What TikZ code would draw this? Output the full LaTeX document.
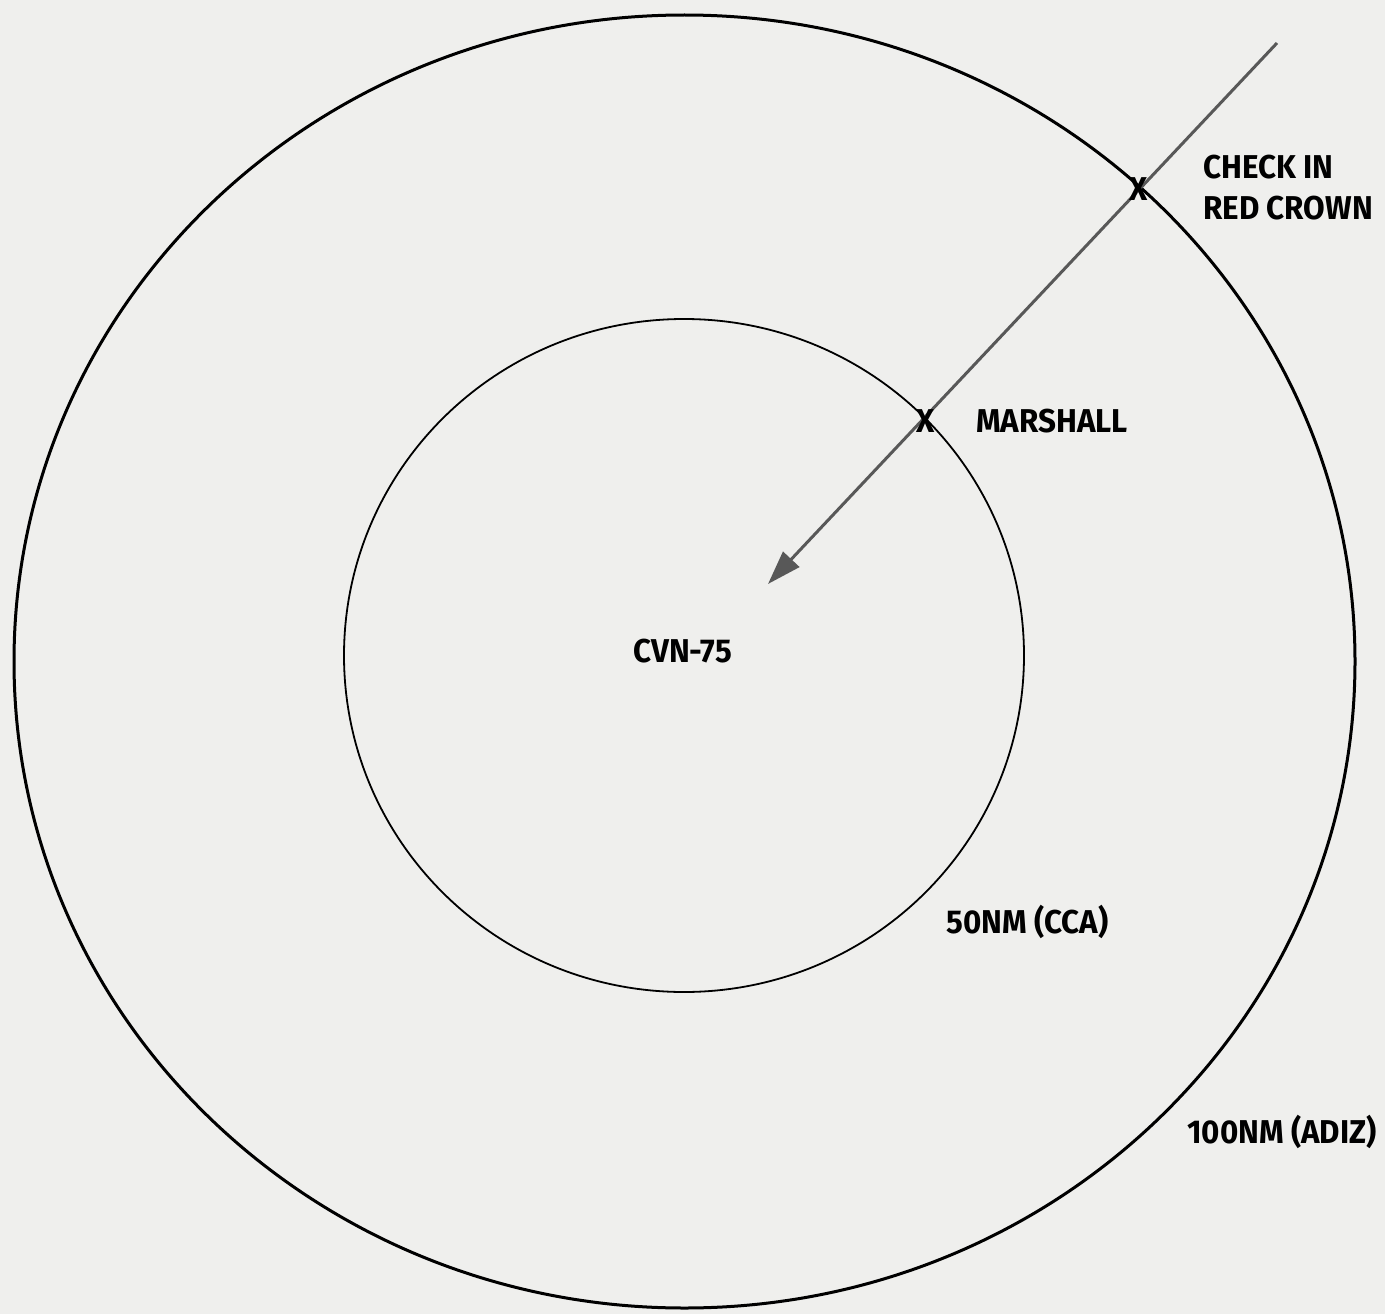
\documentclass[tikz,border=0pt]{standalone}
\usepackage{fontspec}
\setmainfont{Fira Sans}
\newfontfamily\lblfont{Fira Sans}[FakeStretch=0.95]
\usetikzlibrary{shapes.geometric,arrows.meta}
\definecolor{paper}{RGB}{239,239,237}
\definecolor{arrowgray}{RGB}{88,88,88}
\tikzset{
  ring/.style={draw=black, ellipse, inner sep=0pt, fill=none},
  lbl/.style={font=\lblfont\bfseries\fontsize{33}{41}\selectfont, text=black, inner sep=0pt, anchor=base west, align=left},
  xmark/.style={font=\lblfont\bfseries\fontsize{33}{34}\selectfont, text=black, inner sep=0pt},
  route/.style={draw=arrowgray, line width=3pt, -{Triangle[length=34pt,width=22pt]}}
}
\begin{document}
\begin{tikzpicture}[x=1pt,y=-1pt]
\fill[paper] (0,0) rectangle (1385,1314);
\useasboundingbox (0,0) rectangle (1385,1314);
\node[ring, line width=3pt, minimum width=1341pt, minimum height=1293pt] (outer) at (684.5,661.5) {};
\node[ring, line width=1.8pt, minimum width=680pt, minimum height=673pt] (inner) at (684,655.5) {};
\coordinate (start) at (1277,43);
\coordinate (tip) at (768,584);
\draw[route] (start) -- (tip);
\node[xmark] (x1) at (1139,189) {X};
\node[xmark] (x2) at (926,421) {X};
\node[lbl] (checkin) at (1203,219) {CHECK IN\\RED CROWN};
\node[lbl] (marshall) at (976,432) {MARSHALL};
\node[lbl] (cvn) at (633,662) {CVN-75};
\node[lbl] (cca) at (946,933) {50NM (CCA)};
\node[lbl] (adiz) at (1187,1143) {100NM (ADIZ)};
\end{tikzpicture}
\end{document}
